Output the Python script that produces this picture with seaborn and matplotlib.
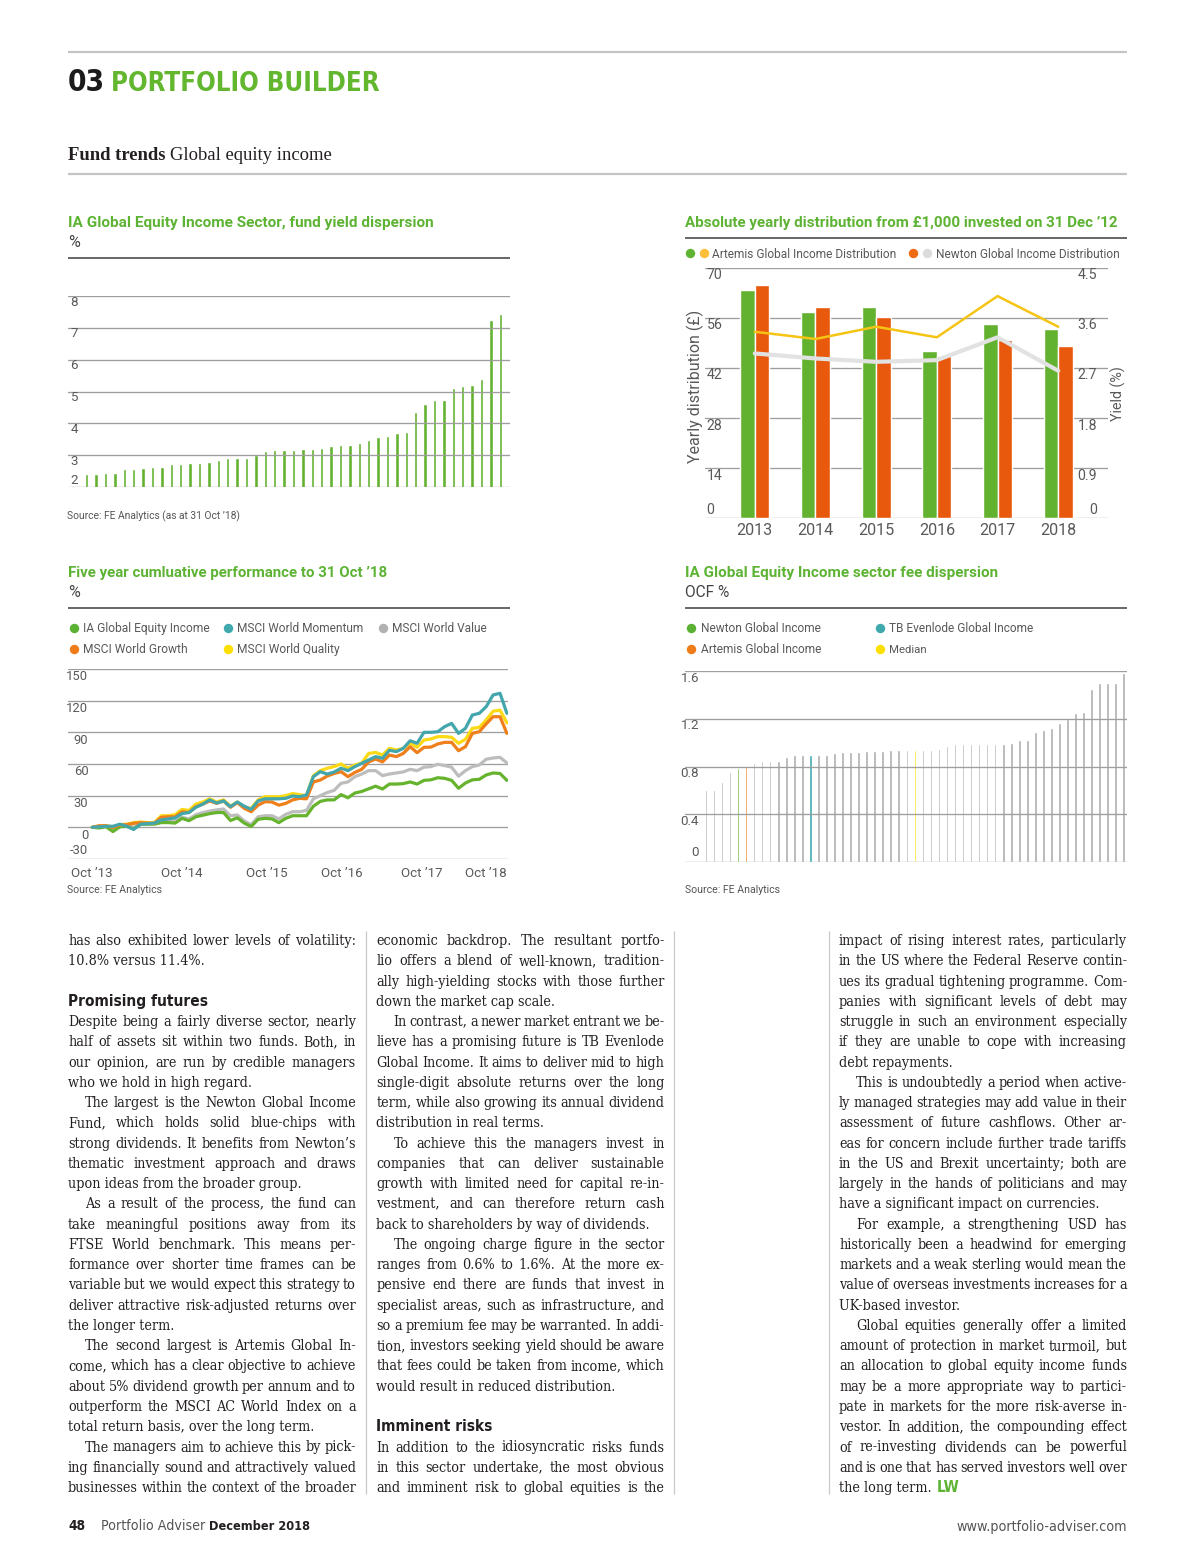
import numpy as np
import pandas as pd
import matplotlib
matplotlib.use("Agg")
import matplotlib.pyplot as plt
import seaborn as sns

# ---------------- data ----------------
yield_funds = list(range(1, 46))
yield_pct = [2.42, 2.42, 2.46, 2.46, 2.57, 2.57, 2.62, 2.65, 2.65, 2.73,
             2.73, 2.77, 2.77, 2.79, 2.85, 2.92, 2.92, 2.93, 3.0, 3.15,
             3.17, 3.17, 3.18, 3.2, 3.2, 3.24, 3.28, 3.32, 3.33, 3.38,
             3.48, 3.57, 3.6, 3.69, 3.73, 4.36, 4.61, 4.73, 4.73, 5.11,
             5.17, 5.2, 5.39, 7.25, 7.44]
yield_ticks = [2, 3, 4, 5, 6, 7, 8]

years = ["2013", "2014", "2015", "2016", "2017", "2018"]
artemis_dist = [63.8, 57.5, 59.1, 46.7, 54.4, 52.9]
newton_dist = [65.3, 59.1, 56.1, 45.3, 49.8, 48.2]
artemis_yield = [3.35, 3.22, 3.44, 3.25, 3.99, 3.44]
newton_yield = [2.96, 2.87, 2.81, 2.84, 3.25, 2.65]
dist_ticks = [0, 14, 28, 42, 56, 70]
yld_ticks = [0, 0.9, 1.8, 2.7, 3.6, 4.5]
yld_labels = ["0", "0.9", "1.8", "2.7", "3.6", "4.5"]

perf_names = ["IA Global Equity Income", "MSCI World Momentum", "MSCI World Value",
              "MSCI World Growth", "MSCI World Quality"]
perf_tick_labels = ["Oct \u201913", "Oct \u201914", "Oct \u201915", "Oct \u201916", "Oct \u201917", "Oct \u201918"]
perf_tick_pos = [0, 13.0, 25.2, 36.1, 47.7, 60]
perf_ticks = [-30, 0, 30, 60, 90, 120, 150]
ia_gei = [0, -0.6, 0.6, -4, 0.5, 1, -1.5, 3, 3, 3, 4.5, 4.5, 4, 8.5, 6.3, 10, 11.5, 13, 14, 14,
          6.5, 9, 4, 0.8, 7.6, 8.5, 8, 4.4, 8.5, 11, 11, 11, 20, 24.6, 26, 26, 31, 28, 32.5, 34,
          36.5, 39, 36.3, 41, 41, 41.4, 43, 41, 44.5, 45, 47, 46.4, 44.5, 37, 42, 45, 45.5, 49.6,
          51.5, 51, 44.5]
msci_value = [0, 0, 1, -2, 1, 2, 0, 3.5, 3.5, 4, 6, 6, 6, 9.5, 8, 12, 14, 15.5, 16.5, 17.4,
              11, 11.7, 6, 2.5, 10, 11, 11, 8, 12.3, 14.8, 14.8, 16, 27, 30, 33, 35, 41.7, 43, 48,
              50.5, 53.7, 53.7, 49, 50.5, 51.5, 52.5, 55, 53.7, 57, 57.5, 59.7, 58.5, 57, 48.5,
              53.7, 57.5, 59, 64.5, 65.7, 66.3, 61]
msci_growth = [0, 1.5, 1.5, 0, 2.2, 2.5, 3.8, 4.4, 4, 3.8, 9.5, 10, 10, 14.8, 14, 19.6, 22, 25,
               22.7, 25, 19, 23.4, 18, 14.8, 21, 24.3, 24, 21, 22.7, 26, 27.5, 27, 43, 44.8, 48.6,
               51, 52.7, 48, 52, 55, 62, 64.7, 62, 68.5, 67, 70, 76.4, 70.7, 75.8, 76, 79, 80.5,
               80.5, 72.6, 76.4, 89, 90.6, 98, 104.8, 104.8, 89]
msci_quality = [0, 1, 1.5, 0.5, 2.5, 3, 4.5, 5, 4.5, 4.5, 11, 11, 12, 17, 16, 22, 24, 27, 24, 26,
                20, 24, 19, 18, 26, 29, 29, 29, 30, 32, 31, 30, 49, 53.7, 56, 57.5, 60, 56, 59, 61,
                70, 71, 68.5, 74.8, 73.3, 74.8, 80, 75.8, 82.7, 83.7, 85.9, 85.9, 85.3, 79.6, 83.4,
                93.8, 94.7, 101.7, 110, 111, 99]
msci_momentum = [0, 0.5, 1, 1, 3, 1, -2, 3, 3.5, 4, 7, 8, 9, 13, 14, 19, 22, 26, 23, 25, 19.6,
                 24, 20, 17, 25, 27, 27, 27, 27.5, 29.7, 29, 30.6, 48, 52.7, 50.5, 52.4, 56, 53.7,
                 57.5, 60.6, 63.8, 67, 65.4, 73, 71.7, 74.8, 82, 79.6, 90, 90, 90.6, 95.4, 98.5, 89,
                 93.8, 106.4, 108, 114.3, 125.4, 127, 108]

ocf = [0.60, 0.60, 0.67, 0.75, 0.79, 0.80, 0.83, 0.85, 0.85, 0.85,
       0.88, 0.90, 0.90, 0.90, 0.90, 0.90, 0.91, 0.92, 0.92, 0.92,
       0.93, 0.93, 0.93, 0.94, 0.94, 0.94, 0.94, 0.94, 0.94, 0.95,
       0.97, 0.985, 0.985, 0.985, 0.99, 0.99, 0.99, 0.99, 1.0, 1.02,
       1.02, 1.085, 1.105, 1.125, 1.165, 1.2, 1.245, 1.255, 1.45, 1.5,
       1.5, 1.5, 1.58]
ocf_highlight = {4: "Newton Global Income", 5: "Artemis Global Income",
                 13: "TB Evenlode Global Income", 26: "Median"}
ocf_ticks = [0, 0.4, 0.8, 1.2, 1.6]
ocf_labels = ["0", "0.4", "0.8", "1.2", "1.6"]

col1 = [
    "has also exhibited lower levels of volatility:",
    "10.8% versus 11.4%.~",
    "",
    "## Promising futures",
    "Despite being a fairly diverse sector, nearly",
    "half of assets sit within two funds. Both, in",
    "our opinion, are run by credible managers",
    "who we hold in high regard.~",
    ">The largest is the Newton Global Income",
    "Fund, which holds solid blue-chips with",
    "strong dividends. It benefits from Newton\u2019s",
    "thematic investment approach and draws",
    "upon ideas from the broader group.~",
    ">As a result of the process, the fund can",
    "take meaningful positions away from its",
    "FTSE World benchmark. This means per-",
    "formance over shorter time frames can be",
    "variable but we would expect this strategy to",
    "deliver attractive risk-adjusted returns over",
    "the longer term.~",
    ">The second largest is Artemis Global In-",
    "come, which has a clear objective to achieve",
    "about 5% dividend growth per annum and to",
    "outperform the MSCI AC World Index on a",
    "total return basis, over the long term.~",
    ">The managers aim to achieve this by pick-",
    "ing financially sound and attractively valued",
    "businesses within the context of the broader",
]
col2 = [
    "economic backdrop. The resultant portfo-",
    "lio offers a blend of well-known, tradition-",
    "ally high-yielding stocks with those further",
    "down the market cap scale.~",
    ">In contrast, a newer market entrant we be-",
    "lieve has a promising future is TB Evenlode",
    "Global Income. It aims to deliver mid to high",
    "single-digit absolute returns over the long",
    "term, while also growing its annual dividend",
    "distribution in real terms.~",
    ">To achieve this the managers invest in",
    "companies that can deliver sustainable",
    "growth with limited need for capital re-in-",
    "vestment, and can therefore return cash",
    "back to shareholders by way of dividends.~",
    ">The ongoing charge figure in the sector",
    "ranges from 0.6% to 1.6%. At the more ex-",
    "pensive end there are funds that invest in",
    "specialist areas, such as infrastructure, and",
    "so a premium fee may be warranted. In addi-",
    "tion, investors seeking yield should be aware",
    "that fees could be taken from income, which",
    "would result in reduced distribution.~",
    "",
    "## Imminent risks",
    "In addition to the idiosyncratic risks funds",
    "in this sector undertake, the most obvious",
    "and imminent risk to global equities is the",
]
col3 = [
    "impact of rising interest rates, particularly",
    "in the US where the Federal Reserve contin-",
    "ues its gradual tightening programme. Com-",
    "panies with significant levels of debt may",
    "struggle in such an environment especially",
    "if they are unable to cope with increasing",
    "debt repayments.~",
    ">This is undoubtedly a period when active-",
    "ly managed strategies may add value in their",
    "assessment of future cashflows. Other ar-",
    "eas for concern include further trade tariffs",
    "in the US and Brexit uncertainty; both are",
    "largely in the hands of politicians and may",
    "have a significant impact on currencies.~",
    ">For example, a strengthening USD has",
    "historically been a headwind for emerging",
    "markets and a weak sterling would mean the",
    "value of overseas investments increases for a",
    "UK-based investor.~",
    ">Global equities generally offer a limited",
    "amount of protection in market turmoil, but",
    "an allocation to global equity income funds",
    "may be a more appropriate way to partici-",
    "pate in markets for the more risk-averse in-",
    "vestor. In addition, the compounding effect",
    "of re-investing dividends can be powerful",
    "and is one that has served investors well over",
    "the long term.~",
]

# ---------------- style ----------------
GREEN_BAR = "#63b22f"
GREEN_T = "#5db333"
ORANGE_BAR = "#e8590d"
GRID = "#9e9e9e"
TICK_C = "#595959"
DARK = "#231f20"
COND = dict(family=["DejaVu Sans"], fontstretch="condensed")
BODY = dict(family=["DejaVu Serif"], fontstretch="condensed")
SERIF = ["Liberation Serif", "DejaVu Serif"]
perf_colors = {"IA Global Equity Income": "#66b32e", "MSCI World Momentum": "#44a6ad",
               "MSCI World Value": "#bdbdbd", "MSCI World Growth": "#ef7f1a",
               "MSCI World Quality": "#fbd915"}
fee_colors = {"Other": "#adadad", "Newton Global Income": "#63b22f",
              "Artemis Global Income": "#ef7f1a", "TB Evenlode Global Income": "#3ea9ad",
              "Median": "#fde100"}

W, H = 1200, 1567
sns.set_style("white")
plt.rcParams["font.family"] = ["Roboto", "DejaVu Sans"]

fig = plt.figure(figsize=(W / 100, H / 100), dpi=100)
R = fig.canvas.get_renderer()

page = fig.add_axes([0, 0, 1, 1], zorder=0)
page.set_xlim(0, W)
page.set_ylim(H, 0)
page.axis("off")


def txt(x, y, s, size, color=DARK, width=None, ha="left", va="baseline", **kw):
    t = page.text(x, y, s, fontsize=size, color=color, ha=ha, va=va, **kw)
    if width:
        bb = t.get_window_extent(R)
        w = bb.height if kw.get("rotation") else bb.width
        t.set_fontsize(size * width / w)
    return t


def measure(s, size, **kw):
    t = page.text(0, 0, s, fontsize=size, **kw)
    w = t.get_window_extent(R).width
    t.remove()
    return w


def rule(x0, x1, y0, y1, color, lw):
    page.plot([x0, x1], [y0, y1], color=color, lw=lw, solid_capstyle="butt")


def dot(x, y, color):
    page.scatter([x], [y], s=46, color=color, linewidths=0)


def px_axes(x0, y0, x1, y1):
    ax = fig.add_axes([x0 / W, 1 - y1 / H, (x1 - x0) / W, (y1 - y0) / H])
    for s in ax.spines.values():
        s.set_visible(False)
    return ax


# ---------------- header ----------------
rule(68, 1127, 52, 52, "#c4c4c4", 1.6)
txt(68, 91, "03", 30, "#1b1b1b", width=37, weight="black", **COND)
txt(110.7, 91, "PORTFOLIO BUILDER", 30, "#62b72f", width=268, weight="black", **COND)
t = txt(68, 160, "Fund trends", 13, DARK, width=97, weight="bold", family=SERIF)
txt(170, 160, "Global equity income", t.get_fontsize(), DARK, family=SERIF)
rule(68, 1127, 174, 174, "#c4c4c4", 1.6)

# ---------------- chart 1: yield dispersion ----------------
txt(68, 226.7, "IA Global Equity Income Sector, fund yield dispersion", 11, GREEN_T, width=366, weight="bold")
txt(68, 247, "%", 11.5, "#444")
rule(68, 510, 258, 258, "#5a5a5a", 1.3)
ax1 = px_axes(68.3, 295.7, 510, 487.3)
sns.barplot(x=yield_funds, y=yield_pct, color=GREEN_BAR, width=0.36, saturation=1, ax=ax1)
ax1.set_ylim(2, 8)
ax1.set_xlim(-1.96, 45.03)
ax1.set_yticks(yield_ticks)
ax1.grid(axis="y", color=GRID, lw=0.95, zorder=5)
ax1.set_axisbelow(False)
ax1.set_xticks([])
ax1.set_xticks(np.arange(-0.5, 45.5, 1), minor=True)
ax1.tick_params(axis="x", which="minor", length=3.6, width=0.8, color=GRID, direction="out")
ax1.tick_params(axis="y", length=0, labelleft=False)
ax1.set_xlabel("")
ax1.set_ylabel("")
for v in yield_ticks:
    ax1.annotate(str(v), xy=(0, v), xycoords=("axes fraction", "data"),
                 xytext=(2, 7 if v == yield_ticks[0] else -6.3), textcoords="offset pixels",
                 ha="left", va="center", fontsize=9.6, color=TICK_C)
txt(67.3, 519, "Source: FE Analytics (as at 31 Oct \u201918)", 7.5, "#555", width=173)

# ---------------- chart 2: distribution ----------------
txt(685, 226.7, "Absolute yearly distribution from \u00a31,000 invested on 31 Dec \u201912", 11, GREEN_T,
    width=433, weight="bold")
rule(685, 1127, 238, 238, "#5a5a5a", 1.3)
dot(690, 253.3, "#5fb332")
dot(704, 253.3, "#fbbf3a")
txt(712.3, 257.5, "Artemis Global Income Distribution", 9, TICK_C, width=185)
dot(913.3, 253.3, "#ef6b13")
dot(927.3, 253.3, "#dcdcdc")
txt(935.7, 257.5, "Newton Global Income Distribution", 9, TICK_C, width=185)

ax2 = px_axes(705, 267.7, 1108, 518.3)
dist_df = pd.DataFrame({"year": years * 2, "fund": ["Artemis"] * 6 + ["Newton"] * 6,
                        "dist": artemis_dist + newton_dist})
sns.barplot(data=dist_df, x="year", y="dist", hue="fund", palette=[GREEN_BAR, ORANGE_BAR],
            width=0.48, gap=0, saturation=1, legend=False, ax=ax2)
ax2.set_ylim(0, 70)
ax2.set_xlim(-0.82, 5.82)
ax2.set_yticks(dist_ticks)
ax2.grid(axis="y", color=GRID, lw=0.95)
ax2.set_axisbelow(True)
ax2.tick_params(axis="y", length=0, labelleft=False)
ax2.set_xticks(range(6))
ax2.set_xticklabels(years)
ax2.set_xticks(np.arange(-0.5, 6, 1), minor=True)
ax2.tick_params(axis="x", which="major", length=0, pad=3.5, labelsize=11.6, labelcolor=TICK_C)
ax2.tick_params(axis="x", which="minor", length=3.6, width=0.8, color=GRID, direction="out")
ax2.set_xlabel("")
ax2.set_ylabel("")
for v in dist_ticks:
    ax2.annotate(str(v), xy=(0, v), xycoords=("axes fraction", "data"),
                 xytext=(1.7, 8.3 if v == 0 else -7.5), textcoords="offset pixels",
                 ha="left", va="center", fontsize=10.2, color=TICK_C)
ay = ax2.twinx()
ay.set_ylim(0, 4.5)
sns.lineplot(x=list(range(6)), y=newton_yield, color="#e2e2e2", lw=3.0, ax=ay)
sns.lineplot(x=list(range(6)), y=artemis_yield, color="#f5c414", lw=1.8, ax=ay)
ay.set_xlim(-0.82, 5.82)
ay.set_yticks([])
ay.set_ylabel("")
for s in ay.spines.values():
    s.set_visible(False)
for v, lab in zip(yld_ticks, yld_labels):
    ay.annotate(lab, xy=(1, v), xycoords=("axes fraction", "data"),
                xytext=(-10.7, 8.3 if v == 0 else -7.5), textcoords="offset pixels",
                ha="right", va="center", fontsize=10.2, color=TICK_C)
txt(695, 386.7, "Yearly distribution (\u00a3)", 10, TICK_C, width=153, ha="center", va="center", rotation=90)
txt(1118.3, 394, "Yield (%)", 10, TICK_C, width=55, ha="center", va="center", rotation=90)

# ---------------- chart 3: performance ----------------
txt(68.3, 577.3, "Five year cumluative performance to 31 Oct \u201918", 11, GREEN_T, width=319.4, weight="bold")
txt(68, 597.3, "%", 11.5, "#444")
rule(68, 510, 608.3, 608.3, "#5a5a5a", 1.3)
legend3 = [(74, 627.7, 83.3, perf_names[0], "#5ab134", 127.3),
           (228.3, 627.7, 236.7, perf_names[1], "#3fa9ad", 127.3),
           (382.7, 627.7, 391.7, perf_names[2], "#b1b1b1", 95),
           (74, 648.7, 83.3, perf_names[3], "#ef7c1a", 104.7),
           (228.3, 648.7, 236.7, perf_names[4], "#fde000", 103.3)]
for dx_, dy_, tx_, name, c, w in legend3:
    dot(dx_, dy_, c)
    txt(tx_, dy_ + 4.5, name, 9, TICK_C, width=w)

ax3 = px_axes(68.3, 669, 508.3, 859)
months = list(range(len(ia_gei)))
perf_df = pd.DataFrame({
    "month": months * 5,
    "series": sum([[n] * len(months) for n in perf_names], []),
    "value": ia_gei + msci_momentum + msci_value + msci_growth + msci_quality,
})
draw_order = ["MSCI World Value", "IA Global Equity Income", "MSCI World Quality",
              "MSCI World Growth", "MSCI World Momentum"]
sns.lineplot(data=perf_df, x="month", y="value", hue="series", hue_order=draw_order,
             palette=perf_colors, lw=2.3, legend=False, ax=ax3)
ax3.set_ylim(-30, 150)
ax3.set_xlim(-3.46, 60.2)
ax3.set_yticks(perf_ticks)
ax3.grid(axis="y", color=GRID, lw=0.95)
ax3.set_axisbelow(True)
ax3.tick_params(axis="y", length=0, labelleft=False)
ax3.set_xticks(perf_tick_pos)
ax3.set_xticklabels(perf_tick_labels)
ax3.tick_params(axis="x", length=3.2, width=0.8, color=GRID, direction="out", pad=2.5,
                labelsize=9.6, labelcolor=TICK_C)
ax3.get_xticklabels()[-1].set_ha("right")
ax3.set_xlabel("")
ax3.set_ylabel("")
for v in perf_ticks:
    ax3.annotate(str(v), xy=(0, v), xycoords=("axes fraction", "data"),
                 xytext=(20, 9 if v == perf_ticks[0] else -7.7), textcoords="offset pixels",
                 ha="right", va="center", fontsize=9.4, color=TICK_C)
txt(67.3, 893.3, "Source: FE Analytics", 7.5, "#555", width=94.4)

# ---------------- chart 4: fee dispersion ----------------
txt(685, 577.3, "IA Global Equity Income sector fee dispersion", 11, GREEN_T, width=313.3, weight="bold")
txt(685, 597.3, "OCF %", 10, "#444", width=44.3)
rule(685, 1127, 608.3, 608.3, "#5a5a5a", 1.3)
legend4 = [(691, 627.7, 700.7, "Newton Global Income", 121),
           (880, 627.7, 889.3, "TB Evenlode Global Income", 145.7),
           (691, 648.7, 700.7, "Artemis Global Income", 121),
           (880, 648.7, 889.3, "Median", 38)]
legend4_dot = {"Newton Global Income": "#5ab134", "TB Evenlode Global Income": "#3fa9ad",
               "Artemis Global Income": "#ef7c1a", "Median": "#fde000"}
for dx_, dy_, tx_, name, w in legend4:
    dot(dx_, dy_, legend4_dot[name])
    txt(tx_, dy_ + 4.5, name, 9, TICK_C, width=w)

ax4 = px_axes(685, 670.7, 1127, 862.3)
fee_df = pd.DataFrame({"fund": list(range(len(ocf))), "ocf": ocf,
                       "group": [ocf_highlight.get(i, "Other") for i in range(len(ocf))]})
sns.barplot(data=fee_df, x="fund", y="ocf", hue="group", palette=fee_colors, dodge=False,
            width=0.32, saturation=1, legend=False, ax=ax4)
ax4.set_ylim(0, 1.6)
ax4.set_xlim(-2.6, 52.4)
ax4.set_yticks(ocf_ticks)
ax4.grid(axis="y", color=GRID, lw=0.95, zorder=5)
ax4.set_axisbelow(False)
ax4.tick_params(axis="y", length=0, labelleft=False)
ax4.set_xticks([])
ax4.set_xlabel("")
ax4.set_ylabel("")
for v, lab in zip(ocf_ticks, ocf_labels):
    ax4.annotate(lab, xy=(0, v), xycoords=("axes fraction", "data"),
                 xytext=(14, 9.3 if v == 0 else -7.3), textcoords="offset pixels",
                 ha="right", va="center", fontsize=9.6, color=TICK_C)
txt(685, 893.3, "Source: FE Analytics", 7.5, "#555", width=94.4)

# ---------------- body text ----------------
COLW = 288
INDENT = 17
BASE0 = 945
LH = 20.26
MIN_SPACE = 0.6
HEAD_W = {"Promising futures": 140, "Imminent risks": 116}
columns = [(68, col1), (376.5, col2), (839, col3)]

space10 = measure("a a", 10, **BODY) - measure("aa", 10, **BODY)
ratio = 0
for x0, lines in columns:
    for line in lines:
        if not line or line.startswith("## ") or line.endswith("~"):
            continue
        s = line.lstrip(">")
        n_sp = s.count(" ")
        avail = COLW - (INDENT if line.startswith(">") else 0)
        need = measure(s, 10, **BODY) - n_sp * space10 * (1 - MIN_SPACE)
        ratio = max(ratio, need / avail)
body_fs = 10 / ratio

last_t = None
for x0, lines in columns:
    for i, line in enumerate(lines):
        yb = BASE0 + i * LH
        if not line:
            continue
        if line.startswith("## "):
            head = line[3:]
            txt(x0, yb, head, 12, DARK, width=HEAD_W[head], weight="bold", **COND)
            continue
        indent = INDENT if line.startswith(">") else 0
        s = line.lstrip(">")
        if s.endswith("~"):
            last_t = txt(x0 + indent, yb, s.rstrip("~"), body_fs, DARK, **BODY)
            continue
        words = s.split()
        ts = [txt(0, yb, w_, body_fs, DARK, **BODY) for w_ in words]
        ws = [t_.get_window_extent(R).width for t_ in ts]
        gap = (COLW - indent - sum(ws)) / (len(words) - 1)
        x = x0 + indent
        for t_, w_ in zip(ts, ws):
            t_.set_x(x)
            x += w_ + gap

end_x = last_t.get_window_extent(R).x1
txt(end_x + 5, BASE0 + 27 * LH, "LW", 11, "#5db333", weight="bold", **COND)

for xr in (366, 674, 829):
    rule(xr, xr, 931, 1494, "#c9c9c9", 0.9)

# ---------------- footer ----------------
txt(68, 1530.5, "48", 11, DARK, width=17, weight="bold", **COND)
txt(101, 1530.5, "Portfolio Adviser", 11, "#555", width=104, **COND)
txt(209, 1530.5, "December 2018", 11, DARK, width=101, weight="bold", **COND)
txt(1127, 1530.5, "www.portfolio-adviser.com", 11, "#555", width=170, ha="right", **COND)

fig.savefig("out.png", dpi=100)
plt.close(fig)
